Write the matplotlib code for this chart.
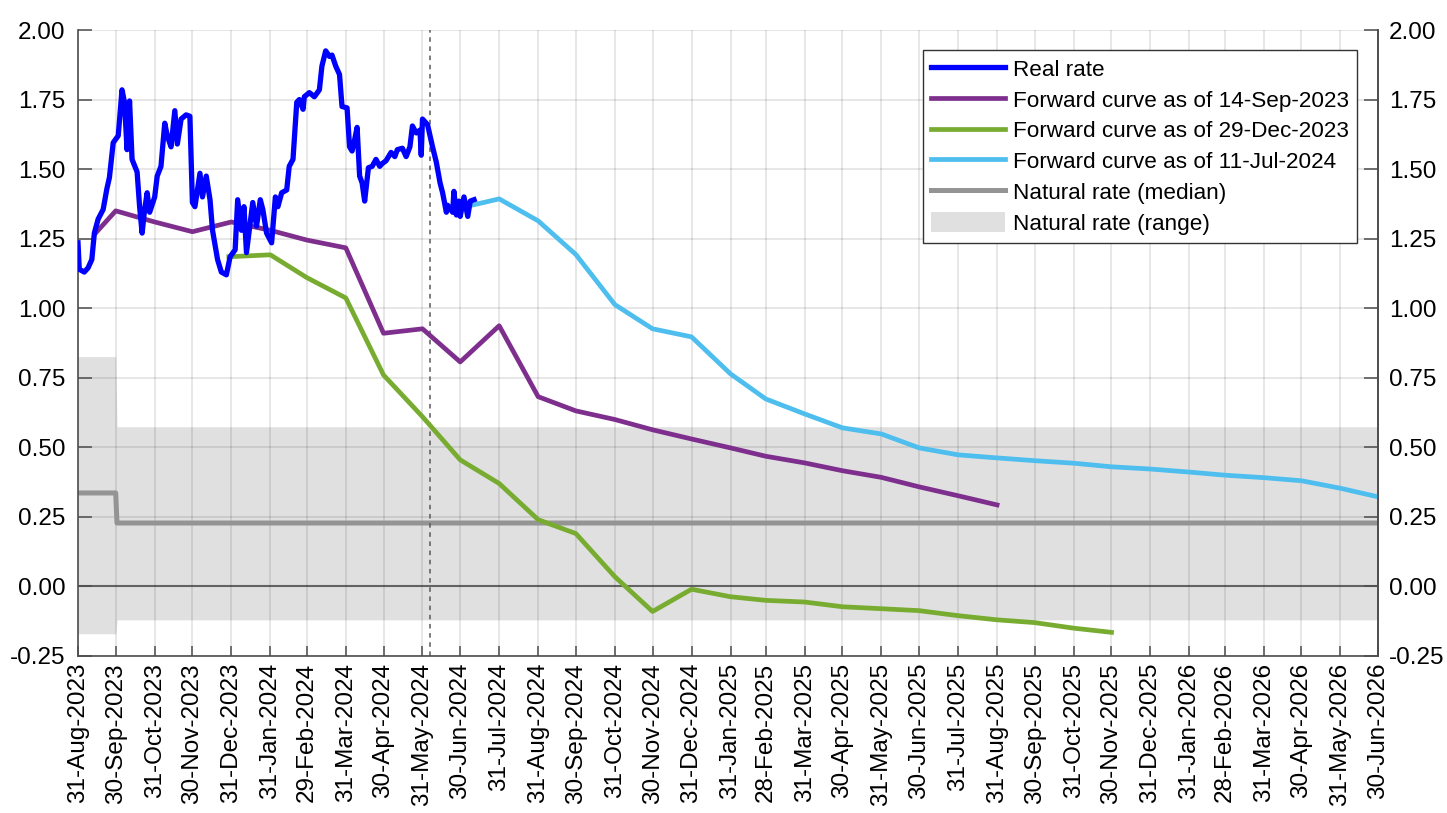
import matplotlib
matplotlib.use("Agg")
import matplotlib.pyplot as plt
from matplotlib.patches import Patch
import pandas as pd

plt.rcParams['font.family'] = ['Liberation Sans', 'DejaVu Sans']

# ---------------- data ----------------
real_dates = [
    "2023-08-31", "2023-09-01", "2023-09-05", "2023-09-08", "2023-09-11", "2023-09-13", "2023-09-16",
    "2023-09-20", "2023-09-23", "2023-09-25", "2023-09-28",
    "2023-10-02", "2023-10-05", "2023-10-07", "2023-10-09", "2023-10-11", "2023-10-13", "2023-10-17",
    "2023-10-19", "2023-10-21", "2023-10-23", "2023-10-25", "2023-10-27", "2023-10-31",
    "2023-11-02", "2023-11-05", "2023-11-08", "2023-11-10", "2023-11-13", "2023-11-16", "2023-11-18",
    "2023-11-21", "2023-11-25", "2023-11-28", "2023-11-30",
    "2023-12-02", "2023-12-06", "2023-12-08", "2023-12-11", "2023-12-14", "2023-12-16", "2023-12-20",
    "2023-12-23", "2023-12-27", "2023-12-30",
    "2024-01-03", "2024-01-05", "2024-01-08", "2024-01-10", "2024-01-12", "2024-01-17", "2024-01-20",
    "2024-01-23", "2024-01-25", "2024-01-28",
    "2024-02-01", "2024-02-04", "2024-02-06", "2024-02-09", "2024-02-13", "2024-02-15", "2024-02-18",
    "2024-02-21", "2024-02-23", "2024-02-26", "2024-02-27",
    "2024-03-02", "2024-03-06", "2024-03-10", "2024-03-12", "2024-03-15", "2024-03-18", "2024-03-20",
    "2024-03-23", "2024-03-26", "2024-03-28",
    "2024-04-01", "2024-04-03", "2024-04-05", "2024-04-07", "2024-04-09", "2024-04-11", "2024-04-13",
    "2024-04-15", "2024-04-18", "2024-04-21", "2024-04-24", "2024-04-27", "2024-04-29",
    "2024-05-02", "2024-05-06", "2024-05-09", "2024-05-11", "2024-05-15", "2024-05-18", "2024-05-21",
    "2024-05-23", "2024-05-26", "2024-05-29", "2024-05-30", "2024-05-31",
    "2024-06-04", "2024-06-06", "2024-06-08", "2024-06-11", "2024-06-14", "2024-06-16", "2024-06-19",
    "2024-06-20", "2024-06-24", "2024-06-25", "2024-06-27", "2024-06-29", "2024-06-30",
    "2024-07-03", "2024-07-06", "2024-07-08", "2024-07-11",
]
real_values = [
    1.235, 1.14, 1.13, 1.145, 1.175, 1.27, 1.32, 1.355, 1.43, 1.47, 1.595,
    1.62, 1.785, 1.74, 1.57, 1.745, 1.535, 1.49, 1.365, 1.27, 1.355, 1.415, 1.345, 1.40,
    1.475, 1.51, 1.665, 1.62, 1.58, 1.71, 1.59, 1.68, 1.695, 1.69, 1.38,
    1.365, 1.485, 1.40, 1.475, 1.39, 1.28, 1.175, 1.13, 1.12, 1.185,
    1.21, 1.39, 1.28, 1.365, 1.20, 1.38, 1.295, 1.39, 1.355, 1.27,
    1.235, 1.40, 1.365, 1.415, 1.425, 1.51, 1.535, 1.74, 1.75, 1.715, 1.76,
    1.775, 1.76, 1.785, 1.87, 1.925, 1.905, 1.91, 1.87, 1.84, 1.725,
    1.72, 1.58, 1.565, 1.605, 1.65, 1.475, 1.45, 1.385, 1.505, 1.51, 1.535, 1.51, 1.52,
    1.53, 1.56, 1.545, 1.57, 1.575, 1.545, 1.58, 1.655, 1.63, 1.64, 1.55, 1.68,
    1.66, 1.62, 1.58, 1.525, 1.45, 1.415, 1.345, 1.37, 1.345, 1.42, 1.335, 1.385, 1.33,
    1.40, 1.33, 1.385, 1.39,
]

fwd_sep23_dates = ["2023-09-14", "2023-09-30", "2023-10-31", "2023-11-30", "2023-12-31", "2024-01-31",
                   "2024-02-29", "2024-03-31", "2024-04-30", "2024-05-31", "2024-06-30", "2024-07-31",
                   "2024-08-31", "2024-09-30", "2024-10-31", "2024-11-30", "2024-12-31", "2025-01-31",
                   "2025-02-28", "2025-03-31", "2025-04-30", "2025-05-31", "2025-06-30", "2025-07-31",
                   "2025-08-31"]
fwd_sep23_values = [1.27, 1.35, 1.31, 1.275, 1.31, 1.28, 1.245, 1.217, 0.91, 0.926, 0.807, 0.937,
                    0.682, 0.631, 0.60, 0.563, 0.53, 0.498, 0.468, 0.444, 0.416, 0.392, 0.358, 0.326,
                    0.293]

fwd_dec23_dates = ["2023-12-29", "2024-01-31", "2024-02-29", "2024-03-31", "2024-04-30", "2024-05-31",
                   "2024-06-30", "2024-07-31", "2024-08-31", "2024-09-30", "2024-10-31", "2024-11-30",
                   "2024-12-31", "2025-01-31", "2025-02-28", "2025-03-31", "2025-04-30", "2025-05-31",
                   "2025-06-30", "2025-07-31", "2025-08-31", "2025-09-30", "2025-10-31", "2025-11-30"]
fwd_dec23_values = [1.185, 1.192, 1.11, 1.037, 0.76, 0.61, 0.455, 0.37, 0.24, 0.19, 0.035, -0.09,
                    -0.01, -0.037, -0.05, -0.056, -0.073, -0.08, -0.087, -0.105, -0.12, -0.13,
                    -0.15, -0.165]

fwd_jul24_dates = ["2024-07-11", "2024-07-31", "2024-08-31", "2024-09-30", "2024-10-31", "2024-11-30",
                   "2024-12-31", "2025-01-31", "2025-02-28", "2025-03-31", "2025-04-30", "2025-05-31",
                   "2025-06-30", "2025-07-31", "2025-08-31", "2025-09-30", "2025-10-31", "2025-11-30",
                   "2025-12-31", "2026-01-31", "2026-02-28", "2026-03-31", "2026-04-30", "2026-05-31",
                   "2026-06-30"]
fwd_jul24_values = [1.372, 1.393, 1.314, 1.193, 1.013, 0.926, 0.897, 0.764, 0.674, 0.62, 0.57, 0.548,
                    0.498, 0.473, 0.462, 0.452, 0.443, 0.43, 0.422, 0.411, 0.40, 0.391, 0.38, 0.353,
                    0.322]

natural_dates = ["2023-08-31", "2023-09-30", "2023-10-01", "2026-06-30"]
natural_median = [0.336, 0.336, 0.228, 0.228]
natural_low = [-0.17, -0.17, -0.12, -0.12]
natural_high = [0.826, 0.826, 0.574, 0.574]

event_date = "2024-06-06"

tick_dates = pd.date_range("2023-08-31", "2026-06-30", freq="ME")
tick_labels = [d.strftime("%d-%b-%Y") for d in tick_dates]
y_ticks = [-0.25, 0.0, 0.25, 0.5, 0.75, 1.0, 1.25, 1.5, 1.75, 2.0]

# ---------------- figure ----------------
def to_dt(lst):
    return pd.to_datetime(lst)

fig = plt.figure(figsize=(14.47, 8.13), dpi=100)
ax = fig.add_axes([78 / 1447, 1 - 656 / 813, 1300 / 1447, 626 / 813])

c_real = (0.0, 0.0, 1.0)
c_sep = (0.494, 0.184, 0.556)
c_dec = (0.466, 0.674, 0.188)
c_jul = (0.301, 0.745, 0.933)
c_med = (0.58, 0.58, 0.58)
c_rng = (0.878, 0.878, 0.878)
spine_c = (0.3, 0.3, 0.3)

ax.fill_between(to_dt(natural_dates), natural_low, natural_high, color=c_rng, lw=0, zorder=0.5)
ax.axhline(0, color=(0.42, 0.42, 0.42), lw=1.5, zorder=1.5)
ax.plot(to_dt(natural_dates), natural_median, color=c_med, lw=3.6, zorder=2)
ax.axvline(pd.Timestamp(event_date), color=(0.35, 0.35, 0.35), lw=1.1, ls=(0, (3, 3)), zorder=2.2)
ax.plot(to_dt(fwd_sep23_dates), fwd_sep23_values, color=c_sep, lw=3.4, zorder=3)
ax.plot(to_dt(fwd_dec23_dates), fwd_dec23_values, color=c_dec, lw=3.4, zorder=3)
ax.plot(to_dt(fwd_jul24_dates), fwd_jul24_values, color=c_jul, lw=3.4, zorder=3)
ax.plot(to_dt(real_dates), real_values, color=c_real, lw=3.8, zorder=4,
        solid_joinstyle='round')

ax.set_xlim(pd.Timestamp("2023-08-31"), pd.Timestamp("2026-06-30"))
ax.set_ylim(-0.25, 2.0)

ax.set_xticks(tick_dates)
ax.set_xticklabels(tick_labels, rotation=90, fontsize=17.5)
ax.set_yticks(y_ticks)
ax.set_yticklabels([f"{v:.2f}" for v in y_ticks], fontsize=17.5)

ax.tick_params(axis='y', direction='in', length=10, width=1.1, color=spine_c, pad=9,
               labelcolor='black')
ax.tick_params(axis='x', direction='in', length=7, width=1.1, color=spine_c, pad=5,
               labelcolor='black')
ax.grid(True, which='major', axis='both', color='#262626', alpha=0.12, linewidth=1.3)
for gl in ax.get_xgridlines() + ax.get_ygridlines():
    gl.set_zorder(1)
    gl.set_color('#262626')
    gl.set_alpha(0.12)

ax.spines["top"].set_visible(False)
for s in ["left", "bottom", "right"]:
    ax.spines[s].set_color(spine_c)
    ax.spines[s].set_linewidth(1.2)

ax2 = ax.twinx()
ax2.set_ylim(-0.25, 2.0)
ax2.set_yticks(y_ticks)
ax2.set_yticklabels([f"{v:.2f}" for v in y_ticks], fontsize=17.5)
ax2.tick_params(axis='y', direction='in', length=10, width=1.1, color=spine_c, pad=8)
for s in ["top", "left", "bottom"]:
    ax2.spines[s].set_visible(False)
ax2.spines["right"].set_color(spine_c)
ax2.spines["right"].set_linewidth(1.2)

handles = [
    plt.Line2D([], [], color=c_real, lw=3.8),
    plt.Line2D([], [], color=c_sep, lw=3.4),
    plt.Line2D([], [], color=c_dec, lw=3.4),
    plt.Line2D([], [], color=c_jul, lw=3.4),
    plt.Line2D([], [], color=c_med, lw=3.6),
    Patch(facecolor=c_rng, edgecolor='none'),
]
labels = ["Real rate", "Forward curve as of 14-Sep-2023", "Forward curve as of 29-Dec-2023",
          "Forward curve as of 11-Jul-2024", "Natural rate (median)", "Natural rate (range)"]
leg = ax2.legend(handles, labels, loc='upper right',
                 bbox_to_anchor=((1357 - 78) / 1300, (656 - 50) / 626),
                 borderaxespad=0, fontsize=16.2, frameon=True, fancybox=False,
                 handlelength=3.3, handleheight=1.0, labelspacing=0.36, handletextpad=0.35,
                 borderpad=0.35)
leg.get_frame().set_edgecolor((0.2, 0.2, 0.2))
leg.get_frame().set_linewidth(1.0)
leg.get_frame().set_alpha(1.0)

fig.savefig("out.png", dpi=100)
